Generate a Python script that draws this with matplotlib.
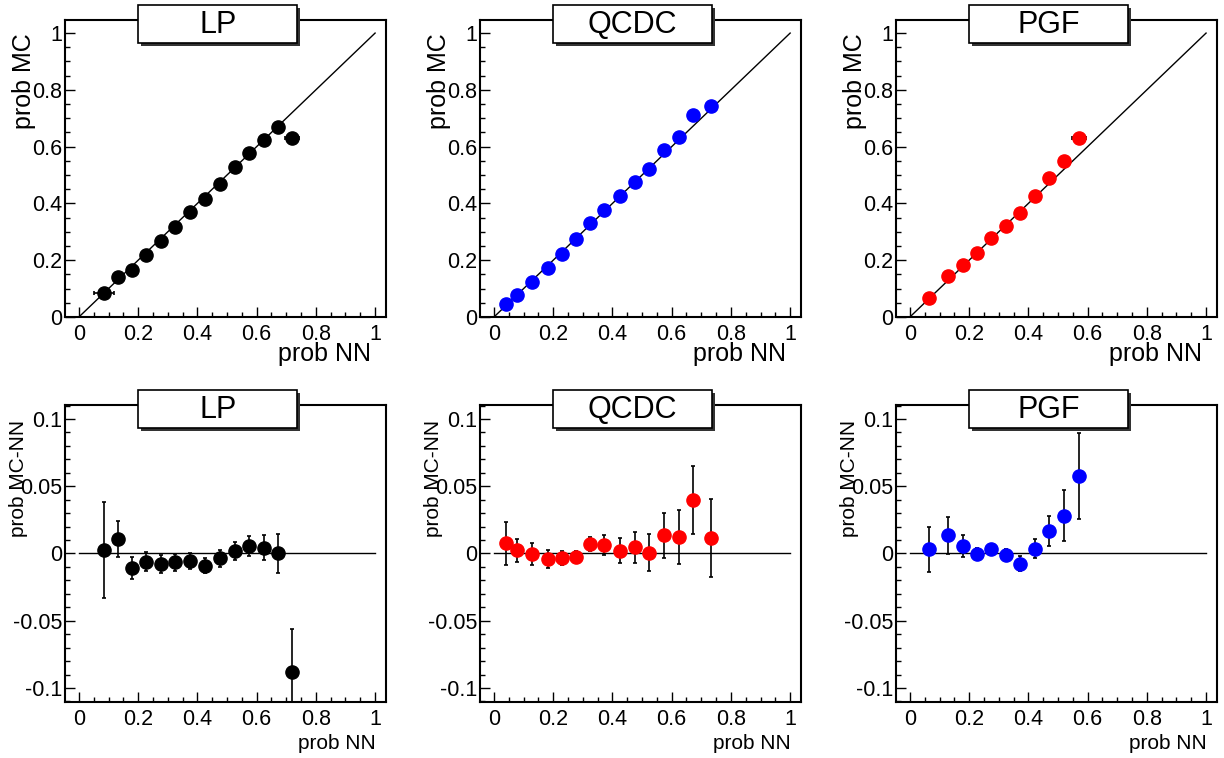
import matplotlib
matplotlib.use("Agg")
import matplotlib.pyplot as plt
from matplotlib.patches import Rectangle
from matplotlib.ticker import MultipleLocator

plt.rcParams['font.family'] = ['Liberation Sans', 'DejaVu Sans']

# LP
lp_nn = [0.086, 0.133, 0.180, 0.226, 0.277, 0.325, 0.376, 0.425, 0.475, 0.527, 0.574, 0.625, 0.672, 0.719]
lp_mc = [0.086, 0.141, 0.167, 0.220, 0.268, 0.317, 0.369, 0.415, 0.470, 0.529, 0.579, 0.625, 0.670, 0.631]
lp_nn_err = [0.034, 0, 0, 0, 0, 0, 0, 0, 0, 0, 0, 0, 0, 0.023]
lp_diff = [0.0025, 0.0107, -0.0107, -0.0062, -0.0075, -0.0065, -0.0055, -0.0092, -0.0037, 0.002, 0.0057, 0.0042, 0.0, -0.0878]
lp_diff_err = [0.0355, 0.0135, 0.0082, 0.007, 0.0067, 0.0062, 0.006, 0.0056, 0.0063, 0.0065, 0.0076, 0.0092, 0.0145, 0.032]

# QCDC
qcdc_nn = [0.042, 0.078, 0.129, 0.181, 0.229, 0.277, 0.325, 0.373, 0.424, 0.477, 0.525, 0.575, 0.625, 0.672, 0.733]
qcdc_mc = [0.045, 0.079, 0.123, 0.174, 0.223, 0.273, 0.331, 0.378, 0.425, 0.476, 0.523, 0.588, 0.635, 0.711, 0.743]
qcdc_nn_err = [0] * 15
qcdc_diff = [0.0075, 0.0025, -0.0002, -0.004, -0.0032, -0.0025, 0.0072, 0.0062, 0.002, 0.0045, 0.0007, 0.0134, 0.012, 0.0398, 0.0112]
qcdc_diff_err = [0.016, 0.0086, 0.008, 0.0065, 0.005, 0.004, 0.0053, 0.0072, 0.0093, 0.0115, 0.0137, 0.0165, 0.02, 0.025, 0.029]

# PGF
pgf_nn = [0.063, 0.128, 0.179, 0.227, 0.275, 0.323, 0.371, 0.421, 0.470, 0.520, 0.572]
pgf_mc = [0.067, 0.143, 0.184, 0.226, 0.277, 0.322, 0.367, 0.425, 0.488, 0.549, 0.632]
pgf_nn_err = [0, 0, 0, 0, 0, 0, 0, 0, 0, 0, 0.024]
pgf_diff = [0.003, 0.0134, 0.0057, -0.0002, 0.003, -0.001, -0.0075, 0.0037, 0.0169, 0.0281, 0.0575]
pgf_diff_err = [0.017, 0.0137, 0.0082, 0.004, 0.004, 0.004, 0.0053, 0.0073, 0.011, 0.0188, 0.032]

titles = ["LP", "QCDC", "PGF"]
top_colors = ["black", "blue", "red"]
bottom_colors = ["black", "red", "blue"]

top_data = [(lp_nn, lp_mc, lp_nn_err), (qcdc_nn, qcdc_mc, qcdc_nn_err), (pgf_nn, pgf_mc, pgf_nn_err)]
bottom_data = [(lp_nn, lp_diff, lp_diff_err), (qcdc_nn, qcdc_diff, qcdc_diff_err), (pgf_nn, pgf_diff, pgf_diff_err)]

fig = plt.figure(figsize=(12.24, 7.58), dpi=100)
lefts = [0.0531, 0.3922, 0.7320]
w = 0.2623
h = 0.3918


def style_axes(ax):
    for s in ax.spines.values():
        s.set_linewidth(1.5)
    ax.tick_params(which='both', direction='in', top=False, right=False, width=1, labelsize=15.5)
    ax.tick_params(which='major', length=7)
    ax.tick_params(which='minor', length=3.6)
    ax.tick_params(axis='x', pad=5)
    ax.tick_params(axis='y', pad=2)
    ax.set_xlim(-0.047, 1.037)
    ax.xaxis.set_major_locator(MultipleLocator(0.2))
    ax.xaxis.set_minor_locator(MultipleLocator(0.05))
    ax.xaxis.set_major_formatter(lambda v, p: "%g" % round(v, 3))
    ax.yaxis.set_major_formatter(lambda v, p: "%g" % round(v, 3))


def title_box(ax, text):
    shadow = Rectangle((0.2375, 0.912), 0.495, 0.128, transform=ax.transAxes,
                       facecolor='#333333', edgecolor='none', clip_on=False, zorder=9)
    box = Rectangle((0.228, 0.922), 0.495, 0.128, transform=ax.transAxes,
                    facecolor='white', edgecolor='black', linewidth=1.2, clip_on=False, zorder=10)
    ax.add_patch(shadow)
    ax.add_patch(box)
    ax.text(0.4755, 0.984, text, transform=ax.transAxes, ha='center', va='center',
            fontsize=22, zorder=11)


for i in range(3):
    # top row: prob MC vs prob NN
    ax = fig.add_axes([lefts[i], 0.5818, w, h])
    style_axes(ax)
    ax.set_ylim(0, 1.046)
    ax.yaxis.set_major_locator(MultipleLocator(0.2))
    ax.yaxis.set_minor_locator(MultipleLocator(0.05))
    ax.plot([0, 1], [0, 1], color='black', linewidth=1.0, zorder=2)
    x, y, xe = top_data[i]
    ax.errorbar(x, y, xerr=xe, fmt='o', color=top_colors[i], ecolor='black',
                markersize=9.5, elinewidth=1.2, capsize=1.5, capthick=1.2, zorder=3)
    ax.set_xlabel("prob NN", fontsize=18, loc='right')
    ax.xaxis.set_label_coords(0.953, -0.085)
    ax.set_ylabel("prob MC", fontsize=18, loc='top')
    ax.yaxis.set_label_coords(-0.09, 0.956)
    title_box(ax, titles[i])

    # bottom row: prob MC-NN vs prob NN
    ax = fig.add_axes([lefts[i], 0.0739, w, h])
    style_axes(ax)
    ax.set_ylim(-0.1104, 0.1104)
    ax.yaxis.set_major_locator(MultipleLocator(0.05))
    ax.yaxis.set_minor_locator(MultipleLocator(0.01))
    ax.plot([0, 1], [0, 0], color='black', linewidth=1.0, zorder=2)
    x, y, ye = bottom_data[i]
    ax.errorbar(x, y, yerr=ye, fmt='o', color=bottom_colors[i], ecolor='black',
                markersize=9.5, elinewidth=1.2, capsize=1.5, capthick=1.2, zorder=3)
    ax.set_xlabel("prob NN", fontsize=15, loc='right')
    ax.xaxis.set_label_coords(0.969, -0.108)
    ax.set_ylabel("prob MC-NN", fontsize=15, loc='top')
    ax.yaxis.set_label_coords(-0.116, 0.95)
    title_box(ax, titles[i])

fig.savefig("out.png", dpi=100)
